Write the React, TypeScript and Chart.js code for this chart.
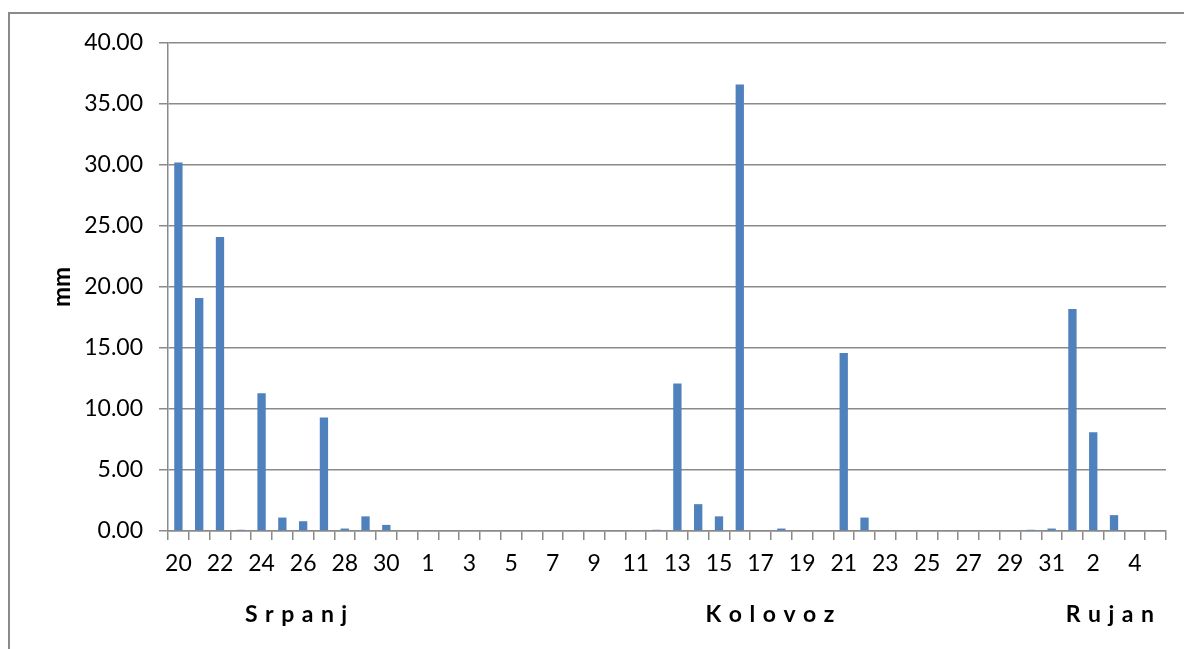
import React, { useEffect, useRef } from "react";
import { Chart, registerables } from "chart.js";

Chart.register(...registerables);

const dayLabels: string[] = [
  "20", "21", "22", "23", "24", "25", "26", "27", "28", "29", "30", "31",
  "1", "2", "3", "4", "5", "6", "7", "8", "9", "10", "11", "12", "13", "14", "15", "16",
  "17", "18", "19", "20", "21", "22", "23", "24", "25", "26", "27", "28", "29", "30", "31",
  "1", "2", "3", "4", "5",
];

const rainfall: number[] = [
  30.2, 19.1, 24.1, 0.1, 11.3, 1.1, 0.8, 9.3, 0.2, 1.2, 0.5, 0,
  0, 0, 0, 0, 0, 0, 0, 0, 0, 0, 0, 0.1, 12.1, 2.2, 1.2, 36.6,
  0, 0.2, 0, 0, 14.6, 1.1, 0, 0, 0, 0, 0, 0, 0, 0.1, 0.2,
  18.2, 8.1, 1.3, 0, 0,
];

const monthNames: string[] = ["S r p a n j", "K o l o v o z", "R u j a n"];
const monthCenters: number[] = [5.66, 28.45, 44.8];
const yAxisTitle = "mm";

const FONT = "Lato, 'Open Sans', sans-serif";
const GRID = "#8a8a8a";

const decorPlugin = {
  id: "decor",
  beforeDraw(chart: any) {
    const ctx = chart.ctx;
    ctx.save();
    ctx.fillStyle = "#ffffff";
    ctx.fillRect(0, 0, chart.width, chart.height);
    ctx.strokeStyle = "#8a8a8a";
    ctx.lineWidth = 2;
    ctx.strokeRect(9, 13, chart.width + 20, chart.height + 20);
    ctx.restore();
  },
  afterDraw(chart: any) {
    const ctx = chart.ctx;
    const xs = chart.scales.x;
    const area = chart.chartArea;
    const step = xs.width / dayLabels.length;
    ctx.save();
    ctx.fillStyle = "#000000";
    ctx.font = "bold 23px " + FONT;
    ctx.textBaseline = "middle";
    monthNames.forEach((name, i) => {
      const letters = name.split(" ");
      const spacing = 7.5;
      const widths = letters.map((c) => ctx.measureText(c).width);
      const total = widths.reduce((a, b) => a + b, 0) + spacing * (letters.length - 1);
      const cx = xs.left + (monthCenters[i] + 0.5) * step;
      let x = cx - total / 2;
      ctx.textAlign = "left";
      letters.forEach((c, j) => {
        ctx.fillText(c, x, 615);
        x += widths[j] + spacing;
      });
    });
    // y axis title
    ctx.font = "bold 24px " + FONT;
    ctx.textAlign = "center";
    ctx.translate(62, (area.top + area.bottom) / 2);
    ctx.rotate(-Math.PI / 2);
    ctx.fillText(yAxisTitle, 0, 0);
    ctx.restore();
  },
};

export default function App() {
  const ref = useRef<HTMLCanvasElement | null>(null);
  useEffect(() => {
    document.body.style.margin = "0";
    const canvas = ref.current;
    if (!canvas) return;
    const chart = new Chart(canvas, {
      type: "bar",
      data: {
        labels: dayLabels,
        datasets: [
          {
            data: rainfall,
            backgroundColor: "#4F81BD",
            borderWidth: 0,
            barPercentage: 0.4,
            categoryPercentage: 1.0,
          },
        ],
      },
      options: {
        animation: false,
        responsive: false,
        maintainAspectRatio: false,
        devicePixelRatio: 1,
        layout: { padding: { top: 43, right: 18, left: 0, bottom: 0 } },
        plugins: {
          legend: { display: false },
          tooltip: { enabled: false },
          title: { display: false },
        },
        scales: {
          x: {
            afterFit: (s: any) => {
              s.height = 118;
            },
            grid: {
              offset: true,
              drawOnChartArea: false,
              drawTicks: true,
              tickLength: 9,
              color: GRID,
              lineWidth: 1.5,
            },
            border: { display: true, color: GRID, width: 1.5 },
            ticks: {
              autoSkip: false,
              maxRotation: 0,
              minRotation: 0,
              padding: 10,
              color: "#000000",
              font: { family: FONT, size: 23 },
              callback: (_v: any, i: number) => (i % 2 === 0 ? dayLabels[i] : ""),
            },
          },
          y: {
            min: 0,
            max: 40,
            afterFit: (s: any) => {
              s.width = 168;
            },
            grid: {
              color: GRID,
              lineWidth: 1.5,
              drawTicks: true,
              tickLength: 9,
            },
            border: { display: true, color: GRID, width: 1.5 },
            ticks: {
              stepSize: 5,
              padding: 16,
              color: "#000000",
              font: { family: FONT, size: 23 },
              callback: (v: any) => Number(v).toFixed(2),
            },
          },
        },
      },
      plugins: [decorPlugin],
    });
    return () => chart.destroy();
  }, []);
  return (
    <div style={{ position: "absolute", left: 0, top: 0, width: 1184, height: 649 }}>
      <canvas ref={ref} width={1184} height={649} style={{ width: 1184, height: 649 }} />
    </div>
  );
}
